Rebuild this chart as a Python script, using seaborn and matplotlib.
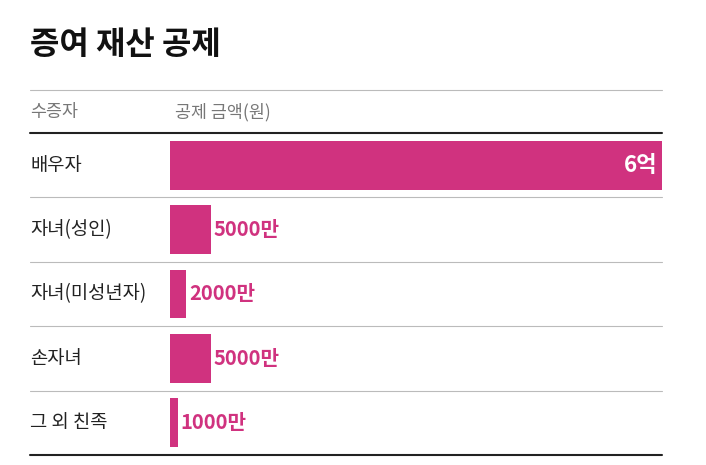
import matplotlib
matplotlib.use("Agg")
import matplotlib.pyplot as plt
import seaborn as sns
from matplotlib.lines import Line2D

sns.set_theme(style="white")
plt.rcParams['font.family'] = ['Noto Sans CJK KR', 'DejaVu Sans']

categories = ["배우자", "자녀(성인)", "자녀(미성년자)", "손자녀", "그 외 친족"]
values = [60000, 5000, 2000, 5000, 1000]  # 만원
labels = ["6억", "5000만", "2000만", "5000만", "1000만"]
color = "#d0327f"

W, H = 706, 465
fig = plt.figure(figsize=(W/100, H/100), dpi=100)
top, bot = 133, 455
ax = fig.add_axes([170/W, 1-bot/H, (662-170)/W, (bot-top)/H])
sns.barplot(x=values, y=categories, orient="h", color=color, width=0.76,
            saturation=1, linewidth=0, ax=ax)
ax.set_xlim(0, 60000)
ax.set_ylim(len(categories)-0.5, -0.5)
ax.axis("off")
for i, (v, lab) in enumerate(zip(values, labels)):
    if v == max(values):
        ax.text(v - 600, i, lab, color="white", fontsize=16, fontweight="bold",
                ha="right", va="center")
    else:
        ax.text(v + 300, i, lab, color=color, fontsize=14.5, fontweight="bold",
                ha="left", va="center")

rowh = (bot-top)/len(categories)
for i, c in enumerate(categories):
    yc = top + rowh*(i+0.5)
    fig.text(30/W, 1-yc/H, c, fontsize=13.5, ha="left", va="center", color="#222222")

def hline(y, lw, col):
    fig.add_artist(Line2D([30/W, 662/W], [1-y/H, 1-y/H], lw=lw, color=col))

hline(90, 0.8, "#bbbbbb")
hline(top, 1.5, "#222222")
for i in range(1, len(categories)):
    hline(top + rowh*i, 0.8, "#bbbbbb")
hline(bot, 1.5, "#222222")

fig.text(30/W, 1-45/H, "증여 재산 공제", fontsize=23, fontweight="heavy",
         ha="left", va="center", color="#111111")
fig.text(30/W, 1-112/H, "수증자", fontsize=12.5, ha="left", va="center", color="#777777")
fig.text(175/W, 1-112/H, "공제 금액(원)", fontsize=12.5, ha="left", va="center", color="#777777")

fig.savefig("out.png", dpi=100, facecolor="white")
